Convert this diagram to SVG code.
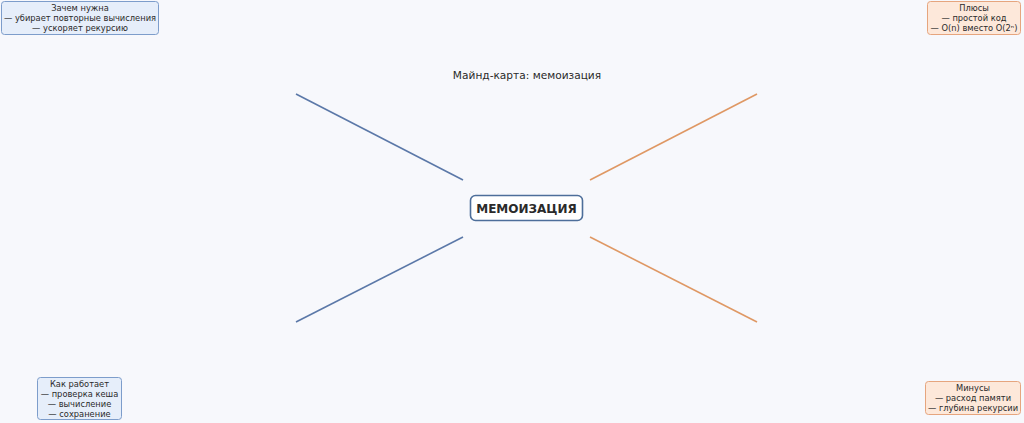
<svg xmlns="http://www.w3.org/2000/svg" width="1024" height="423" viewBox="0 0 1024 423">
<style>
text{font-family:"DejaVu Sans","Noto Sans",sans-serif;fill:#2a2a2a}
.t{font-size:8.3px;text-anchor:middle}
.b rect{fill:#e6eefa;stroke:#7d9dcb;stroke-width:1}
.o rect{fill:#fde8da;stroke:#e6a57e;stroke-width:1}
.lb{stroke:#5b78a8;stroke-width:1.6;fill:none}
.lo{stroke:#df9864;stroke-width:1.6;fill:none}
</style>
<rect width="1024" height="423" fill="#f7f8fc"/>
<text x="527" y="79" font-size="10.6" text-anchor="middle" fill="#333">Майнд-карта: мемоизация</text>
<g id="connectors">
<line class="lb" x1="463" y1="180" x2="296" y2="94"/>
<line class="lb" x1="463" y1="237" x2="296" y2="322"/>
<line class="lo" x1="590" y1="180" x2="757" y2="94"/>
<line class="lo" x1="590" y1="237" x2="757" y2="322"/>
</g>
<g id="center">
<rect x="470.5" y="195.5" width="112" height="25" rx="5" fill="#fff" stroke="#4d6e9a" stroke-width="1.6"/>
<text x="526.5" y="212.5" font-size="12" font-weight="bold" text-anchor="middle" fill="#1f2533">МЕМОИЗАЦИЯ</text>
</g>
<g id="why" class="b">
<rect x="1.5" y="1.5" width="157" height="33" rx="3"/>
<text class="t" x="80" y="11">Зачем нужна</text>
<text class="t" x="80" y="21">— убирает повторные вычисления</text>
<text class="t" x="80" y="31">— ускоряет рекурсию</text>
</g>
<g id="how" class="b">
<rect x="37.5" y="377.5" width="84" height="42" rx="3"/>
<text class="t" x="79.5" y="387">Как работает</text>
<text class="t" x="79.5" y="397">— проверка кеша</text>
<text class="t" x="79.5" y="407">— вычисление</text>
<text class="t" x="79.5" y="417">— сохранение</text>
</g>
<g id="pros" class="o">
<rect x="927.5" y="1.5" width="93" height="33" rx="3"/>
<text class="t" x="974" y="11">Плюсы</text>
<text class="t" x="974" y="21">— простой код</text>
<text class="t" x="974" y="31">— O(n) вместо O(2ⁿ)</text>
</g>
<g id="cons" class="o">
<rect x="925.5" y="381.5" width="95" height="33" rx="3"/>
<text class="t" x="973" y="391">Минусы</text>
<text class="t" x="973" y="401">— расход памяти</text>
<text class="t" x="973" y="411">— глубина рекурсии</text>
</g>
</svg>
